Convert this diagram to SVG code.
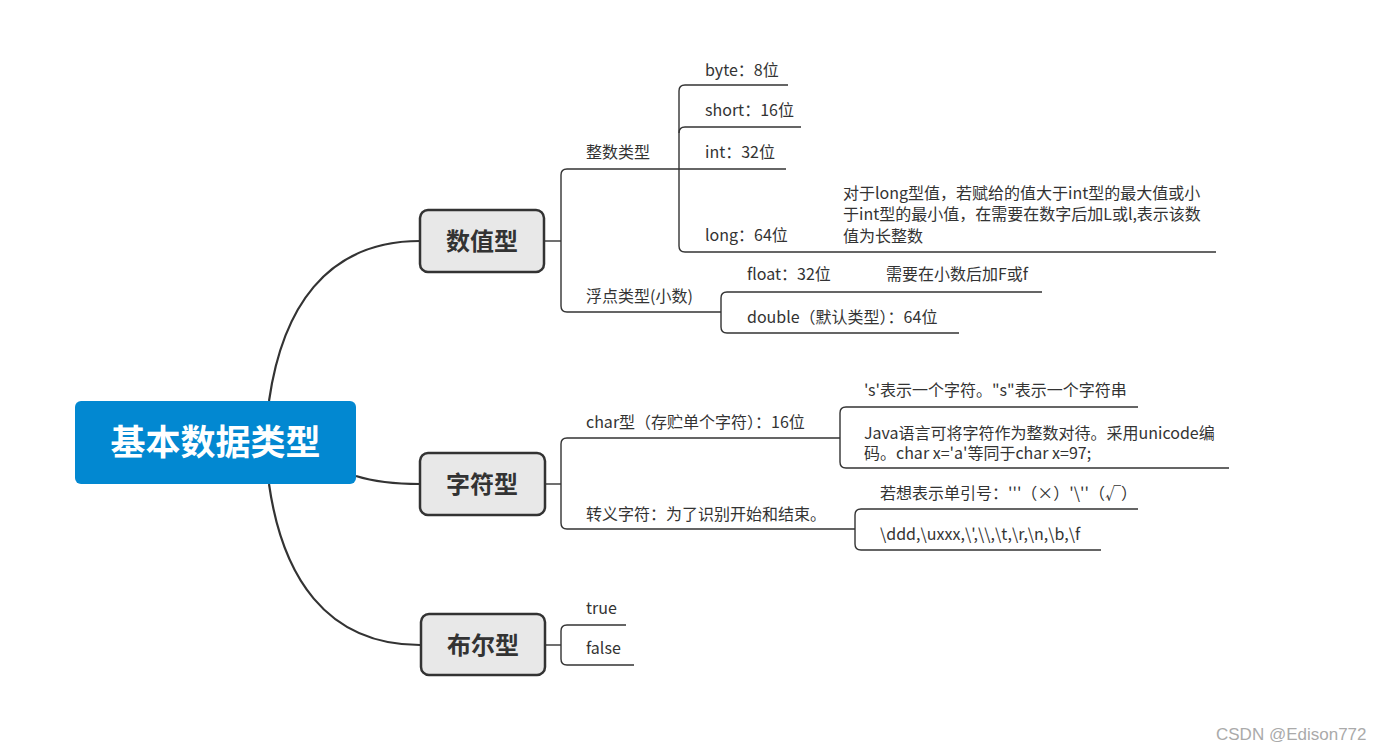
<svg xmlns="http://www.w3.org/2000/svg" width="1396" height="751" viewBox="0 0 1396 751">
<style>
.t{font-family:"Noto Sans CJK SC","Noto Sans",sans-serif;font-size:16px;fill:#333}
.m{font-family:"Noto Sans CJK SC",sans-serif;font-size:24px;font-weight:bold;fill:#333;text-anchor:middle}
.box{fill:#e8e8e8;stroke:#333;stroke-width:2.5}
.c{fill:none;stroke:#333;stroke-width:2.2}
.b{fill:none;stroke:#333;stroke-width:1.4}
</style>
<rect width="1396" height="751" fill="#fff"/>
<g id="connectors">
<path class="c" d="M269,401 C282,310 325,241 420,241"/>
<path class="c" d="M356,476 C375,482 395,484 420,484"/>
<path class="c" d="M269,484 C282,575 325,645 420,645"/>
<path class="b" d="M544,241 H561"/>
<path class="b" d="M679,169 H567 Q561,169 561,175 V306 Q561,312 567,312 H721"/>
<path class="b" d="M788,85 H685 Q679,85 679,91 V246 Q679,252 685,252 H1216"/>
<path class="b" d="M679,133 Q679,127 685,127 H801"/>
<path class="b" d="M679,169 H786"/>
<path class="b" d="M1042,292 H727 Q721,292 721,298 V327 Q721,333 727,333 H959"/>
<path class="b" d="M546,484 H561"/>
<path class="b" d="M840,438 H567 Q561,438 561,444 V523 Q561,529 567,529 H855"/>
<path class="b" d="M1138,407 H846 Q840,407 840,413 V462 Q840,468 846,468 H1229"/>
<path class="b" d="M1138,509 H861 Q855,509 855,515 V544 Q855,550 861,550 H1101"/>
<path class="b" d="M546,645 H561"/>
<path class="b" d="M626,625 H567 Q561,625 561,631 V659 Q561,665 567,665 H634"/>
</g>
<g id="root">
<rect x="75" y="401" width="281" height="83" rx="6" fill="#0288d1"/>
<text x="215.5" y="455" font-family="'Noto Sans CJK SC',sans-serif" font-size="35" font-weight="bold" fill="#fff" text-anchor="middle">基本数据类型</text>
</g>
<g id="numeric">
<rect class="box" x="420" y="210" width="124" height="62" rx="8"/>
<text class="m" x="482" y="250">数值型</text>
</g>
<g id="char">
<rect class="box" x="420" y="453" width="125" height="62" rx="8"/>
<text class="m" x="482" y="493">字符型</text>
</g>
<g id="bool">
<rect class="box" x="421" y="614" width="124" height="61" rx="8"/>
<text class="m" x="483" y="654">布尔型</text>
</g>
<g id="int-type"><text class="t" x="586" y="158">整数类型</text></g>
<g id="byte"><text class="t" x="705" y="76">byte：8位</text></g>
<g id="short"><text class="t" x="705" y="116">short：16位</text></g>
<g id="int"><text class="t" x="705" y="158">int：32位</text></g>
<g id="long"><text class="t" x="705" y="241">long：64位</text></g>
<g id="long-note">
<text class="t" x="843" y="199">对于long型值，若赋给的值大于int型的最大值或小</text>
<text class="t" x="843" y="220">于int型的最小值，在需要在数字后加L或l,表示该数</text>
<text class="t" x="843" y="242">值为长整数</text>
</g>
<g id="float-type"><text class="t" x="586" y="302">浮点类型(小数)</text></g>
<g id="float"><text class="t" x="747" y="280">float：32位</text></g>
<g id="float-note"><text class="t" x="886" y="280">需要在小数后加F或f</text></g>
<g id="double"><text class="t" x="747" y="323">double（默认类型）：64位</text></g>
<g id="char-type"><text class="t" x="586" y="428">char型（存贮单个字符）：16位</text></g>
<g id="char-note1"><text class="t" x="864" y="396">'s'表示一个字符。"s"表示一个字符串</text></g>
<g id="char-note2">
<text class="t" x="864" y="439">Java语言可将字符作为整数对待。采用unicode编</text>
<text class="t" x="864" y="459">码。char x='a'等同于char x=97;</text>
</g>
<g id="escape"><text class="t" x="586" y="520">转义字符：为了识别开始和结束。</text></g>
<g id="escape-note1"><text class="t" x="880" y="499">若想表示单引号：'''（×）'\''（√）</text></g>
<g id="escape-note2"><text class="t" x="880" y="540">\ddd,\uxxx,\',\\,\t,\r,\n,\b,\f</text></g>
<g id="true"><text class="t" x="586" y="614">true</text></g>
<g id="false"><text class="t" x="586" y="654">false</text></g>
<text x="1216" y="740" font-family="'Liberation Sans',sans-serif" font-size="17" fill="#aaa">CSDN @Edison772</text>
</svg>
